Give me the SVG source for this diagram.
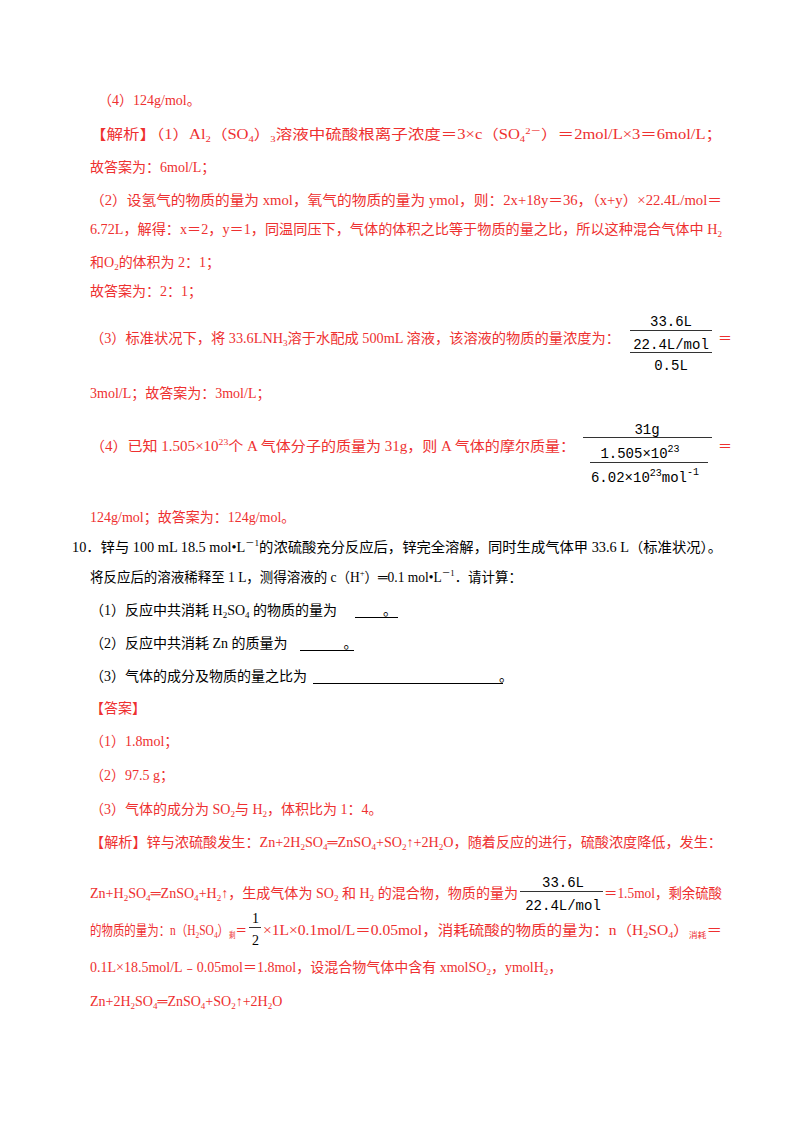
<svg xmlns="http://www.w3.org/2000/svg" width="800" height="1132" viewBox="0 0 800 1132">
<style>
text{font-family:"Liberation Serif","Noto Sans CJK SC",serif;font-size:14px}
.r{fill:#ee3030}
.k{fill:#000}
.m{font-family:"Liberation Mono","Noto Sans CJK SC",monospace;font-size:14px}
.s{font-size:9px}
</style>
<rect width="800" height="1132" fill="#fff"/>
<g class="r">
<text x="98" y="105">（4）124g/mol。</text>
<text x="90" y="139" textLength="632" lengthAdjust="spacingAndGlyphs">【解析】（1）Al<tspan class="s" dy="3">2</tspan><tspan dy="-3">（SO</tspan><tspan class="s" dy="3">4</tspan><tspan dy="-3">）</tspan><tspan class="s" dy="3">3</tspan><tspan dy="-3">溶液中硫酸根离子浓度＝3×c（SO</tspan><tspan class="s" dy="3">4</tspan><tspan class="s" dy="-8">2－</tspan><tspan dy="5">）＝2mol/L×3＝6mol/L；</tspan></text>
<text x="90" y="172">故答案为：6mol/L；</text>
<text x="90" y="205" textLength="632" lengthAdjust="spacingAndGlyphs">（2）设氢气的物质的量为 xmol，氧气的物质的量为 ymol，则：2x+18y＝36，（x+y）×22.4L/mol＝</text>
<text x="90" y="234" textLength="632" lengthAdjust="spacingAndGlyphs">6.72L，解得：x＝2，y＝1，同温同压下，气体的体积之比等于物质的量之比，所以这种混合气体中 H<tspan class="s" dy="3">2</tspan></text>
<text x="90" y="267">和O<tspan class="s" dy="3">2</tspan><tspan dy="-3">的体积为 2：1；</tspan></text>
<text x="90" y="296">故答案为：2：1；</text>
<text x="90" y="343" textLength="530" lengthAdjust="spacingAndGlyphs">（3）标准状况下，将 33.6LNH<tspan class="s" dy="3">3</tspan><tspan dy="-3">溶于水配成 500mL 溶液，该溶液的物质的量浓度为：</tspan></text>
<text x="90" y="398">3mol/L；故答案为：3mol/L；</text>
<text x="90" y="451" textLength="485" lengthAdjust="spacingAndGlyphs">（4）已知 1.505×10<tspan class="s" dy="-6">23</tspan><tspan dy="6">个 A 气体分子的质量为 31g，则 A 气体的摩尔质量：</tspan></text>
<text x="90" y="522">124g/mol；故答案为：124g/mol。</text>
<text x="718" y="343">＝</text>
<text x="718" y="451">＝</text>
</g>
<g class="k">
<text class="m" x="671" y="326" text-anchor="middle">33.6L</text>
<text class="m" x="671" y="349" text-anchor="middle">22.4L/mol</text>
<text class="m" x="671" y="370" text-anchor="middle">0.5L</text>
<text class="m" x="647" y="434" text-anchor="middle">31g</text>
<text class="m" x="640" y="458" text-anchor="middle">1.505×10<tspan font-size="10" dy="-6">23</tspan></text>
<text class="m" x="645" y="482" text-anchor="middle">6.02×10<tspan font-size="10" dy="-6">23</tspan><tspan dy="6">mol</tspan><tspan font-size="10" dy="-7">-1</tspan></text>
<text class="m" x="563" y="887" text-anchor="middle">33.6L</text>
<text class="m" x="563" y="910" text-anchor="middle">22.4L/mol</text>
<text x="252" y="923" font-size="15">1</text>
<text x="252" y="945" font-size="15">2</text>
</g>
<g stroke="#333" stroke-width="1">
<line x1="630" y1="330.5" x2="712" y2="330.5"/>
<line x1="630" y1="352.5" x2="712" y2="352.5"/>
<line x1="583" y1="437.5" x2="712" y2="437.5"/>
<line x1="590" y1="462.5" x2="708" y2="462.5"/>
<line x1="520" y1="891.5" x2="603" y2="891.5"/>
<line x1="249" y1="927.5" x2="261" y2="927.5"/>
</g>
<g class="k">
<text x="72" y="552" textLength="650" lengthAdjust="spacingAndGlyphs">10．锌与 100 mL 18.5 mol•L<tspan class="s" dy="-6">－1</tspan><tspan dy="6">的浓硫酸充分反应后，锌完全溶解，同时生成气体甲 33.6 L（标准状况）。</tspan></text>
<text x="90" y="582" textLength="432" lengthAdjust="spacingAndGlyphs">将反应后的溶液稀释至 1 L，测得溶液的 c（H<tspan class="s" dy="-6">+</tspan><tspan dy="6">）═0.1 mol•L</tspan><tspan class="s" dy="-6">－1</tspan><tspan dy="6">．请计算：</tspan></text>
<text x="90" y="615">（1）反应中共消耗 H<tspan class="s" dy="3">2</tspan><tspan dy="-3">SO</tspan><tspan class="s" dy="3">4</tspan><tspan dy="-3"> 的物质的量为</tspan><tspan dx="46">。</tspan></text>
<text x="90" y="648">（2）反应中共消耗 Zn 的质量为<tspan dx="56">。</tspan></text>
<text x="90" y="681">（3）气体的成分及物质的量之比为<tspan dx="192">。</tspan></text>
</g>
<g stroke="#000" stroke-width="1">
<line x1="355" y1="617.5" x2="398" y2="617.5"/>
<line x1="300" y1="650.5" x2="354" y2="650.5"/>
<line x1="313" y1="683.5" x2="503" y2="683.5"/>
</g>
<g class="r">
<text x="90" y="713">【答案】</text>
<text x="90" y="746">（1）1.8mol；</text>
<text x="90" y="780">（2）97.5 g；</text>
<text x="90" y="814">（3）气体的成分为 SO<tspan class="s" dy="3">2</tspan><tspan dy="-3">与 H</tspan><tspan class="s" dy="3">2</tspan><tspan dy="-3">，体积比为 1：4。</tspan></text>
<text x="90" y="847" textLength="632" lengthAdjust="spacingAndGlyphs">【解析】锌与浓硫酸发生：Zn+2H<tspan class="s" dy="3">2</tspan><tspan dy="-3">SO</tspan><tspan class="s" dy="3">4</tspan><tspan dy="-3">═ZnSO</tspan><tspan class="s" dy="3">4</tspan><tspan dy="-3">+SO</tspan><tspan class="s" dy="3">2</tspan><tspan dy="-3">↑+2H</tspan><tspan class="s" dy="3">2</tspan><tspan dy="-3">O，随着反应的进行，硫酸浓度降低，发生：</tspan></text>
<text x="90" y="898" textLength="428" lengthAdjust="spacingAndGlyphs">Zn+H<tspan class="s" dy="3">2</tspan><tspan dy="-3">SO</tspan><tspan class="s" dy="3">4</tspan><tspan dy="-3">═ZnSO</tspan><tspan class="s" dy="3">4</tspan><tspan dy="-3">+H</tspan><tspan class="s" dy="3">2</tspan><tspan dy="-3">↑，生成气体为 SO</tspan><tspan class="s" dy="3">2</tspan><tspan dy="-3"> 和 H</tspan><tspan class="s" dy="3">2</tspan><tspan dy="-3"> 的混合物，物质的量为</tspan></text>
<text x="604" y="898" textLength="118" lengthAdjust="spacingAndGlyphs">＝1.5mol，剩余硫酸</text>
<text x="90" y="935" textLength="157" lengthAdjust="spacingAndGlyphs">的物质的量为：n（H<tspan class="s" dy="3">2</tspan><tspan dy="-3">SO</tspan><tspan class="s" dy="3">4</tspan><tspan dy="-3">）</tspan><tspan font-size="8" dy="3">剩</tspan><tspan dy="-3">＝</tspan></text>
<text x="263" y="935" textLength="459" lengthAdjust="spacingAndGlyphs">×1L×0.1mol/L＝0.05mol，消耗硫酸的物质的量为：n（H<tspan class="s" dy="3">2</tspan><tspan dy="-3">SO</tspan><tspan class="s" dy="3">4</tspan><tspan dy="-3">）</tspan><tspan font-size="8" dy="3">消耗</tspan><tspan dy="-3">＝</tspan></text>
<text x="90" y="972">0.1L×18.5mol/L﹣0.05mol＝1.8mol，设混合物气体中含有 xmolSO<tspan class="s" dy="3">2</tspan><tspan dy="-3">，ymolH</tspan><tspan class="s" dy="3">2</tspan><tspan dy="-3">，</tspan></text>
<text x="90" y="1006">Zn+2H<tspan class="s" dy="3">2</tspan><tspan dy="-3">SO</tspan><tspan class="s" dy="3">4</tspan><tspan dy="-3">═ZnSO</tspan><tspan class="s" dy="3">4</tspan><tspan dy="-3">+SO</tspan><tspan class="s" dy="3">2</tspan><tspan dy="-3">↑+2H</tspan><tspan class="s" dy="3">2</tspan><tspan dy="-3">O</tspan></text>
</g>
</svg>
